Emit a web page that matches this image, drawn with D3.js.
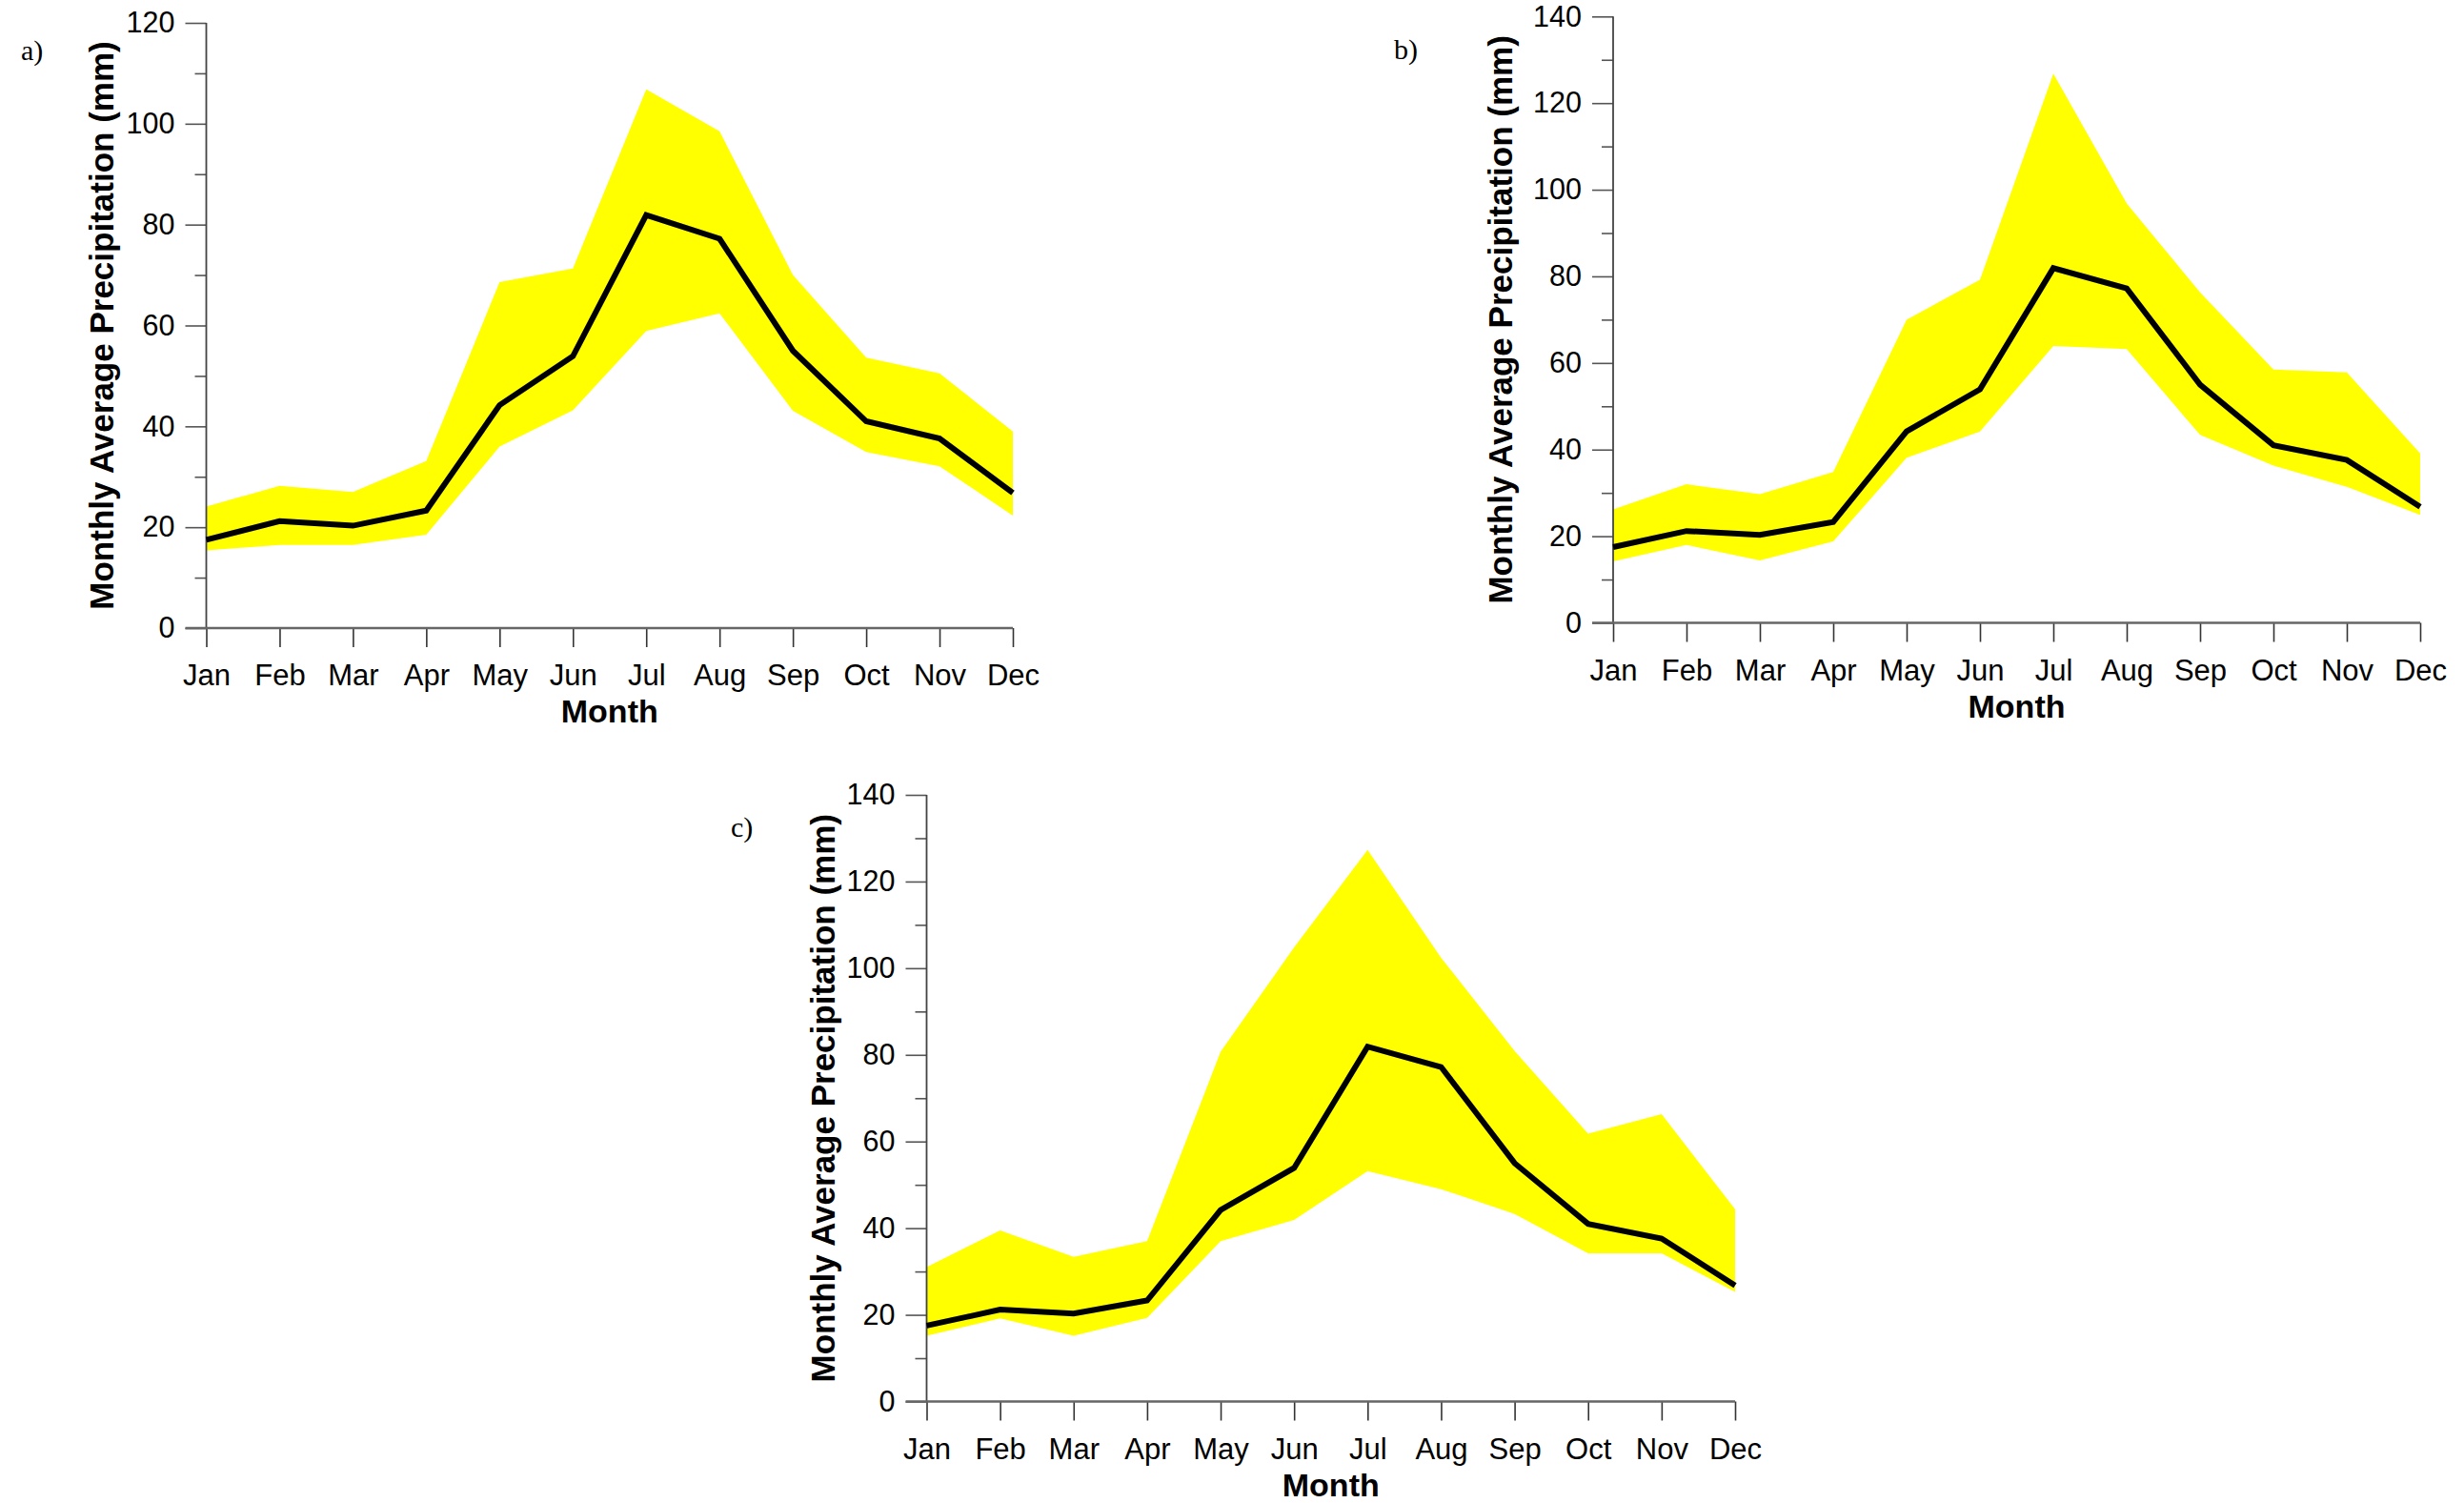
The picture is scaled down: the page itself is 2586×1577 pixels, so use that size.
<!DOCTYPE html>
<html>
<head>
<meta charset="utf-8">
<script src="https://cdn.jsdelivr.net/npm/d3@7"></script>
<style>
  html, body { margin: 0; padding: 0; background: #fff; }
  svg { display: block; }
  text { font-family: Arial, "Liberation Sans", sans-serif; }
  text.tag { font-family: "Times New Roman", "Liberation Serif", serif; }
</style>
</head>
<body>
<svg id="chart" width="2586" height="1577"></svg>
<script>
// Months on the x axis
const months = ["Jan", "Feb", "Mar", "Apr", "May", "Jun", "Jul", "Aug", "Sep", "Oct", "Nov", "Dec"];

// Observed monthly average precipitation (mm)
const meanPrecip = [17.5, 21.2, 20.3, 23.3, 44.2, 53.9, 81.9, 77.2, 55.0, 41.0, 37.6, 26.8];

// Envelope bounds for each panel (mm)
const upperA = [24.1, 28.2, 27.0, 33.1, 68.6, 71.3, 106.8, 98.5, 70.0, 53.6, 50.5, 39.0];
const lowerA = [15.4, 16.5, 16.5, 18.5, 36.0, 43.2, 58.9, 62.4, 43.1, 34.9, 32.1, 22.3];

const upperB = [26.2, 32.0, 29.7, 34.8, 70.0, 79.2, 126.8, 96.8, 76.3, 58.5, 57.8, 39.1];
const lowerB = [14.2, 18.0, 14.4, 18.8, 38.1, 44.2, 63.9, 63.2, 43.4, 36.3, 31.4, 24.9];

const upperC = [31.0, 39.5, 33.4, 37.0, 80.7, 104.8, 127.3, 102.4, 80.9, 61.8, 66.3, 44.4];
const lowerC = [15.2, 19.2, 15.2, 19.3, 37.0, 41.9, 53.2, 49.0, 43.3, 34.2, 34.2, 25.3];

// Y-axis tick values
const yTicksA = [0, 20, 40, 60, 80, 100, 120];
const yTicksBC = [0, 20, 40, 60, 80, 100, 120, 140];

const panelLabels = ["a)", "b)", "c)"];
const xTitle = "Month";
const yTitle = "Monthly Average Precipitation (mm)";

// Panel placement on the page
const panels = [
  { tag: panelLabels[0], upper: upperA, lower: lowerA, ticks: yTicksA, yMax: 120,
    left: 216.5, right: 1063, bottom: 659, top: 24, tagX: 22, tagY: 63, titleX: 119 },
  { tag: panelLabels[1], upper: upperB, lower: lowerB, ticks: yTicksBC, yMax: 140,
    left: 1693, right: 2540, bottom: 653.5, top: 17.3, tagX: 1463, tagY: 62, titleX: 1587 },
  { tag: panelLabels[2], upper: upperC, lower: lowerC, ticks: yTicksBC, yMax: 140,
    left: 972.5, right: 1821, bottom: 1470.5, top: 834, tagX: 767, tagY: 878, titleX: 876 }
];

const svg = d3.select("#chart");

panels.forEach(p => {
  const g = svg.append("g");

  const x = d3.scalePoint().domain(months).range([p.left, p.right]).padding(0);
  const y = d3.scaleLinear().domain([0, p.yMax]).range([p.bottom, p.top]);

  const rows = months.map((m, i) => ({ m, lo: p.lower[i], hi: p.upper[i], mean: meanPrecip[i] }));

  // Envelope
  const band = d3.area()
    .x(d => x(d.m))
    .y0(d => y(d.lo))
    .y1(d => y(d.hi));
  g.append("path")
    .datum(rows)
    .attr("d", band)
    .attr("fill", "#ffff00")
    .attr("stroke", "none");

  // Minor y ticks every 10 mm
  const minor = d3.range(10, p.yMax, 20);
  g.append("g")
    .attr("transform", `translate(${p.left},0)`)
    .call(d3.axisLeft(y).tickValues(minor).tickSize(12).tickFormat(""))
    .call(a => a.select(".domain").remove())
    .call(a => a.selectAll("line").attr("stroke", "#555").attr("stroke-width", 1.6));

  // Major y ticks with labels
  g.append("g")
    .attr("transform", `translate(${p.left},0)`)
    .call(d3.axisLeft(y).tickValues(p.ticks).tickSize(22).tickPadding(11).tickFormat(d3.format("d")))
    .call(a => a.select(".domain").remove())
    .call(a => a.selectAll("line").attr("stroke", "#555").attr("stroke-width", 1.6))
    .call(a => a.selectAll("text")
      .attr("font-size", 30.5)
      .attr("fill", "#000"));

  // X ticks with month labels
  g.append("g")
    .attr("transform", `translate(0,${p.bottom})`)
    .call(d3.axisBottom(x).tickSize(20).tickPadding(18))
    .call(a => a.select(".domain").remove())
    .call(a => a.selectAll("line").attr("stroke", "#333").attr("stroke-width", 1.6))
    .call(a => a.selectAll("text")
      .attr("font-size", 31)
      .attr("fill", "#000"));

  // Axis lines
  g.append("line")
    .attr("x1", p.left).attr("x2", p.left)
    .attr("y1", y(p.yMax)).attr("y2", y(0))
    .attr("stroke", "#444").attr("stroke-width", 1.8);
  g.append("line")
    .attr("x1", p.left - 22).attr("x2", p.right)
    .attr("y1", y(0)).attr("y2", y(0))
    .attr("stroke", "#666").attr("stroke-width", 2.4);

  // Mean line
  const line = d3.line()
    .x(d => x(d.m))
    .y(d => y(d.mean));
  g.append("path")
    .datum(rows)
    .attr("d", line)
    .attr("fill", "none")
    .attr("stroke", "#000")
    .attr("stroke-width", 6)
    .attr("stroke-linejoin", "miter");

  // Axis titles
  g.append("text")
    .attr("x", (p.left + p.right) / 2)
    .attr("y", p.bottom + 99)
    .attr("text-anchor", "middle")
    .attr("font-size", 34)
    .attr("font-weight", "bold")
    .text(xTitle);

  g.append("text")
    .attr("transform", `translate(${p.titleX},${(p.top + p.bottom) / 2}) rotate(-90)`)
    .attr("text-anchor", "middle")
    .attr("font-size", 35)
    .attr("font-weight", "bold")
    .text(yTitle);

  // Panel tag
  g.append("text")
    .attr("class", "tag")
    .attr("x", p.tagX)
    .attr("y", p.tagY)
    .attr("font-size", 30)
    .text(p.tag);
});
</script>
</body>
</html>
